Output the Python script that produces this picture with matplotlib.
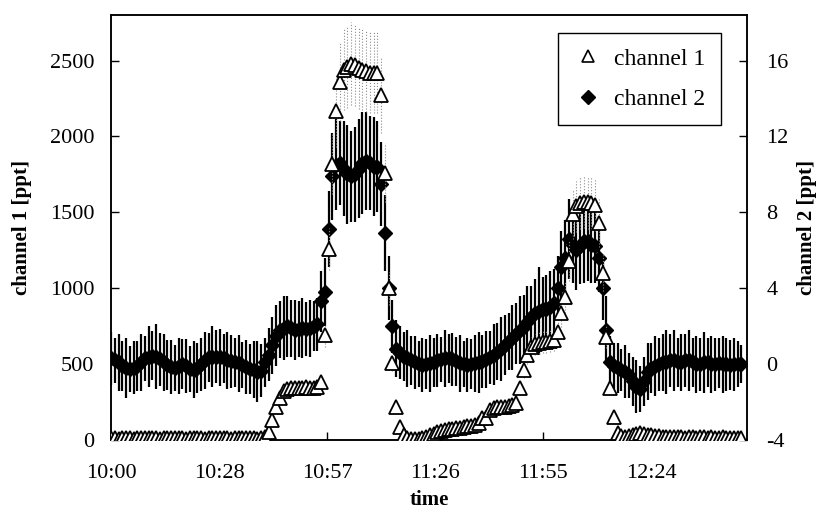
import numpy as np
import matplotlib

matplotlib.use("Agg")
import matplotlib.pyplot as plt
from matplotlib.lines import Line2D

plt.rcParams["font.family"] = ["Liberation Serif", "DejaVu Serif"]
plt.rcParams["axes.unicode_minus"] = False

# sampling: one reading per minute from 10:00
t_start = 0
t_step = 1
n_points = 169
minutes = t_start + t_step * np.arange(n_points)

ch1 = [
    10, 12, 8, 10, 12, 10, 8, 10, 12, 10,
    10, 12, 10, 8, 10, 12, 10, 10, 12, 10,
    8, 10, 12, 10, 10, 8, 10, 12, 10, 10,
    12, 10, 8, 10, 12, 10, 10, 12, 10, 8,
    10, 20, 50, 130, 215, 280, 320, 335, 340, 345,
    345, 345, 350, 345, 345, 350, 385, 690, 1260, 1820,
    2170, 2360, 2440, 2460, 2480, 2470, 2450, 2440, 2430, 2420,
    2420, 2420, 2270, 1760, 1000, 510, 215, 85, 35, 15,
    8, 5, 5, 10, 20, 30, 40, 50, 60, 65,
    70, 75, 78, 80, 85, 90, 95, 100, 110, 145,
    145, 195, 210, 215, 218, 220, 225, 230, 245, 340,
    460, 560, 610, 630, 640, 645, 645, 650, 660, 710,
    835, 940, 1180, 1490, 1540, 1560, 1570, 1565, 1560, 1550,
    1430, 1100, 680, 340, 150, 45, 25, 20, 25, 35,
    40, 45, 40, 35, 30, 25, 25, 20, 20, 20,
    20, 20, 20, 15, 20, 20, 15, 20, 20, 15,
    20, 15, 15, 20, 15, 15, 15, 10, 10,
]
ch1_rel_err = 0.11  # dotted bars are about +-11 % of the value

ch2 = [
    0.3, 0.2, 0.1, -0.1, -0.2, -0.25, -0.2, -0.1, 0.1, 0.3,
    0.4, 0.45, 0.4, 0.25, 0.1, -0.05, -0.15, -0.2, -0.1, 0.0,
    -0.1, -0.25, -0.3, -0.2, 0.0, 0.2, 0.35, 0.4, 0.4, 0.35,
    0.3, 0.2, 0.15, 0.1, 0.05, -0.05, -0.15, -0.25, -0.3, -0.4,
    -0.35, 0.1, 0.5, 1.0, 1.5, 1.8, 1.9, 2.0, 1.9, 1.8,
    1.85, 1.9, 1.85, 1.9, 2.0, 2.1, 3.3, 3.8, 7.1, 9.9,
    10.5, 10.6, 10.3, 10.0, 9.9, 10.0, 10.3, 10.6, 10.7, 10.6,
    10.4, 10.4, 9.5, 6.9, 4.0, 2.0, 0.8, 0.6, 0.4, 0.3,
    0.2, 0.1, 0.0, -0.05, 0.0, 0.05, 0.1, 0.2, 0.25, 0.3,
    0.3, 0.25, 0.15, 0.05, 0.0, -0.05, 0.0, 0.05, 0.1, 0.15,
    0.25, 0.35, 0.5, 0.65, 0.8, 1.0, 1.2, 1.4, 1.6, 1.8,
    1.95, 2.2, 2.5, 2.7, 2.8, 2.9, 2.9, 3.0, 3.2, 4.0,
    5.1, 5.6, 6.6, 6.3, 6.0, 6.2, 6.5, 6.5, 6.3, 6.2,
    5.6, 4.0, 1.8, 0.1, -0.1, -0.2, -0.3, -0.4, -0.6, -0.9,
    -1.2, -1.3, -0.9, -0.4, -0.2, -0.1, 0.0, 0.1, 0.1, 0.2,
    0.2, 0.1, 0.1, 0.2, 0.2, 0.1, 0.0, 0.0, 0.1, 0.1,
    0.0, 0.0, 0.05, 0.0, 0.0, -0.05, 0.0, 0.0, 0.0,
]
ch2_err = [
    1.4, 1.2, 1.5, 1.3, 1.6, 1.2, 1.4, 1.3, 1.5, 1.2,
    1.6, 1.3, 1.7, 1.4, 1.5, 1.3, 1.4, 1.2, 1.5, 1.3,
    1.4, 1.2, 1.5, 1.3, 1.4, 1.5, 1.3, 1.6, 1.4, 1.5,
    1.3, 1.5, 1.4, 1.3, 1.5, 1.2, 1.4, 1.3, 1.5, 1.6,
    1.4, 1.3, 1.4, 1.5, 1.6, 1.5, 1.7, 1.6, 1.5, 1.6,
    1.5, 1.6, 1.4, 1.5, 1.3, 1.4, 1.6, 1.8, 2.0, 2.3,
    2.4, 2.2, 2.5, 2.6, 2.4, 2.5, 2.6, 2.7, 2.6, 2.5,
    2.6, 2.4, 2.2, 2.0, 1.7, 1.4, 1.5, 1.4, 1.3, 1.5,
    1.3, 1.4, 1.2, 1.4, 1.3, 1.5, 1.3, 1.4, 1.2, 1.5,
    1.3, 1.4, 1.3, 1.5, 1.2, 1.4, 1.3, 1.5, 1.6, 1.4,
    1.5, 1.4, 1.6, 1.5, 1.7, 1.6, 1.5, 1.7, 1.6, 1.8,
    1.7, 1.9, 1.6, 1.8, 2.3, 1.7, 1.8, 1.9, 1.8, 1.7,
    1.9, 2.0, 2.1, 2.0, 2.1, 2.0, 2.2, 2.1, 2.0, 1.9,
    1.8, 1.7, 1.8, 1.4, 1.2, 1.3, 1.1, 1.4, 1.2, 1.3,
    1.4, 1.2, 1.3, 1.5, 1.3, 1.6, 1.4, 1.5, 1.7, 1.4,
    1.6, 1.3, 1.5, 1.4, 1.6, 1.3, 1.5, 1.4, 1.6, 1.3,
    1.5, 1.4, 1.3, 1.5, 1.4, 1.3, 1.4, 1.2, 1.0,
]

time_ticks = [0, 28.8, 57.6, 86.4, 115.2, 144]
time_labels = ["10:00", "10:28", "10:57", "11:26", "11:55", "12:24"]
left_ticks = [0, 500, 1000, 1500, 2000, 2500]
right_ticks = [-4, 0, 4, 8, 12, 16]
grid_levels = [500, 1500, 2500]

ch1 = np.array(ch1, dtype=float)
ch2 = np.array(ch2, dtype=float)

fig = plt.figure(figsize=(8.18, 5.11), dpi=100)
ax = fig.add_axes([111 / 818, 1 - 440 / 511, 636 / 818, 425 / 511])
ax2 = ax.twinx()
ax.set_zorder(ax2.get_zorder() + 1)
ax.patch.set_visible(False)

# channel 2 (right axis): filled diamonds, solid bars
ax2.errorbar(minutes, ch2, yerr=ch2_err, fmt="D", ms=7.5, color="black",
             ecolor="black", elinewidth=1.6, capsize=0, zorder=3)

# channel 1 (left axis): open triangles, dotted grey bars
eb = ax.errorbar(minutes, ch1, yerr=ch1 * ch1_rel_err, fmt="^", ms=9.5,
                 mfc="white", mec="black", mew=1.3, ecolor="0.55",
                 elinewidth=0.8, capsize=0, zorder=4)
eb[2][0].set_linestyle(":")

ax.set_xlim(0, 169.5)
ax.set_ylim(0, 2800)
ax2.set_ylim(-4, 18.4)

ax.set_xticks(time_ticks)
ax.set_xticklabels(time_labels)
ax.set_yticks(left_ticks)
ax2.set_yticks(right_ticks)
ax.set_yticks(grid_levels, minor=True)
ax.grid(which="minor", axis="y", color="black", lw=0.8)
ax.tick_params(which="minor", length=0)

ax.tick_params(axis="both", which="major", direction="in", length=6,
               width=1.0, labelsize=16, colors="black")
ax.tick_params(axis="y", pad=12)
ax.tick_params(axis="x", pad=17)
ax2.tick_params(axis="y", direction="in", length=6, width=1.0,
                labelsize=16, pad=14)

for a in (ax, ax2):
    for s in a.spines.values():
        s.set_linewidth(1.1)
        s.set_color("black")

ax.set_xlabel("time", fontsize=15, fontweight="bold", labelpad=5)
ax.set_ylabel("channel 1 [ppt]", fontsize=15, fontweight="bold", labelpad=13)
ax2.set_ylabel("channel 2 [ppt]", fontsize=15, fontweight="bold", labelpad=6)

handles = [
    Line2D([], [], ls="none", marker="^", ms=8, mfc="white", mec="black", mew=1.2),
    Line2D([], [], ls="none", marker="D", ms=7, color="black"),
]
leg = ax.legend(handles, ["channel 1", "channel 2"], loc="upper right",
                bbox_to_anchor=(0.959, 0.958), fontsize=17, frameon=True,
                fancybox=False, framealpha=1, edgecolor="black",
                handlelength=1.3, handletextpad=0.45, labelspacing=0.8,
                borderpad=0.65, borderaxespad=0)
leg.get_frame().set_linewidth(1.0)

fig.savefig("out.png", dpi=100)
